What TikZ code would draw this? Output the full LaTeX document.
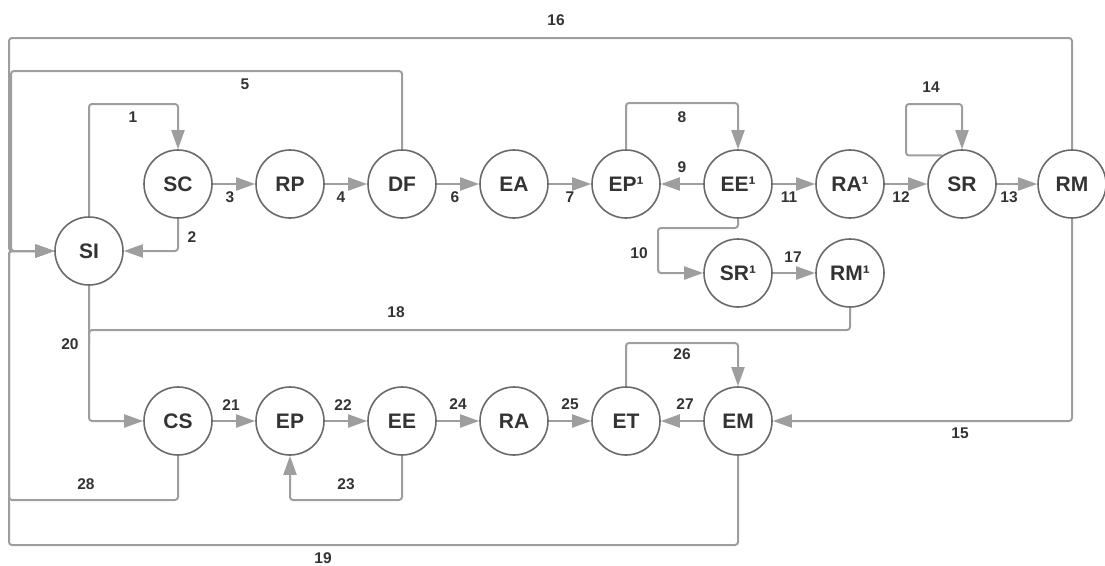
\documentclass[tikz,border=0pt]{standalone}
\usepackage{fontspec}
\setmainfont{Liberation Sans}
\usetikzlibrary{arrows.meta}
\definecolor{linegray}{HTML}{9E9E9E}
\definecolor{circgray}{HTML}{6A6A6A}
\definecolor{txtgray}{HTML}{333333}
\tikzset{
  state/.style={circle, draw=circgray, line width=1.6pt, minimum size=68pt, inner sep=0pt,
    text=txtgray, font=\fontsize{21}{24}\selectfont\bfseries},
  edge/.style={draw=linegray, line width=2pt, rounded corners=3pt,
    -{Triangle[length=19pt, width=13pt, fill=linegray]}},
  plain/.style={draw=linegray, line width=2pt, rounded corners=3pt},
  lab/.style={text=txtgray, font=\fontsize{15.5}{18}\selectfont\bfseries, inner sep=0pt}
}
\begin{document}
\begin{tikzpicture}[x=1pt, y=-1pt]
\useasboundingbox (0,0) rectangle (1105,565);
% nodes
\node[state] (SI)  at (89,251)  {SI};
\node[state] (SC)  at (178,184) {SC};
\node[state] (RP)  at (290,184) {RP};
\node[state] (DF)  at (402,184) {DF};
\node[state] (EA)  at (514,184) {EA};
\node[state] (EP1) at (626,184) {EP¹};
\node[state] (EE1) at (738,184) {EE¹};
\node[state] (RA1) at (850,184) {RA¹};
\node[state] (SR)  at (962,184) {SR};
\node[state] (RM)  at (1072,184) {RM};
\node[state] (SR1) at (738,273) {SR¹};
\node[state] (RM1) at (850,273) {RM¹};
\node[state] (CS)  at (178,421) {CS};
\node[state] (EP)  at (290,421) {EP};
\node[state] (EE)  at (402,421) {EE};
\node[state] (RA)  at (514,421) {RA};
\node[state] (ET)  at (626,421) {ET};
\node[state] (EM)  at (738,421) {EM};
% connectors
\draw[edge] (SI.north) |- (130,104) -| (SC.north);
\draw[edge] (SC.south) |- (SI.east);
\draw[edge] (SC) -- (RP);
\draw[edge] (RP) -- (DF);
\draw[edge] (DF.north) |- (11,71) |- (SI.west);
\draw[edge] (RM.north) |- (9,38) |- (SI.west);
\draw[edge] (CS.south) |- (9,500) |- (SI.west);
\draw[edge] (EM.south) |- (9,545) |- (SI.west);
\draw[edge] (DF) -- (EA);
\draw[edge] (EA) -- (EP1);
\draw[edge] (EP1.north) |- (680,103) -| (EE1.north);
\draw[edge] (EE1) -- (EP1);
\draw[edge] (EE1.south) |- (658,228) |- (SR1.west);
\draw[edge] (EE1) -- (RA1);
\draw[edge] (RA1) -- (SR);
\draw[edge] (SR) -- (RM);
\draw[edge] (SR.125) -| (906,104) -| (SR.north);
\draw[edge] (RM.south) |- (EM.east);
\draw[edge] (SR1) -- (RM1);
\draw[plain] (RM1.south) |- (89,330) -- (89,345);
\draw[edge] (SI.south) |- (CS.west);
\draw[edge] (CS) -- (EP);
\draw[edge] (EP) -- (EE);
\draw[edge] (EE.south) |- (340,500) -| (EP.south);
\draw[edge] (EE) -- (RA);
\draw[edge] (RA) -- (ET);
\draw[edge] (ET.north) |- (680,343) -| (EM.north);
\draw[edge] (EM) -- (ET);
% labels
\node[lab] (l1)  at (133,117) {1};
\node[lab] (l2)  at (192,237) {2};
\node[lab] (l3)  at (230,197) {3};
\node[lab] (l4)  at (341,197) {4};
\node[lab] (l5)  at (245,84)  {5};
\node[lab] (l6)  at (455,197) {6};
\node[lab] (l7)  at (570,197) {7};
\node[lab] (l8)  at (682,117) {8};
\node[lab] (l9)  at (682,167) {9};
\node[lab] (l10) at (639,253) {10};
\node[lab] (l11) at (789,197) {11};
\node[lab] (l12) at (901,197) {12};
\node[lab] (l13) at (1009,197) {13};
\node[lab] (l14) at (931,87)  {14};
\node[lab] (l15) at (960,433) {15};
\node[lab] (l16) at (556,20)  {16};
\node[lab] (l17) at (793,257) {17};
\node[lab] (l18) at (396,312) {18};
\node[lab] (l19) at (323,558) {19};
\node[lab] (l20) at (70,344)  {20};
\node[lab] (l21) at (231,405) {21};
\node[lab] (l22) at (343,405) {22};
\node[lab] (l23) at (346,484) {23};
\node[lab] (l24) at (458,404) {24};
\node[lab] (l25) at (570,404) {25};
\node[lab] (l26) at (682,354) {26};
\node[lab] (l27) at (685,404) {27};
\node[lab] (l28) at (86,484)  {28};
\end{tikzpicture}
\end{document}
